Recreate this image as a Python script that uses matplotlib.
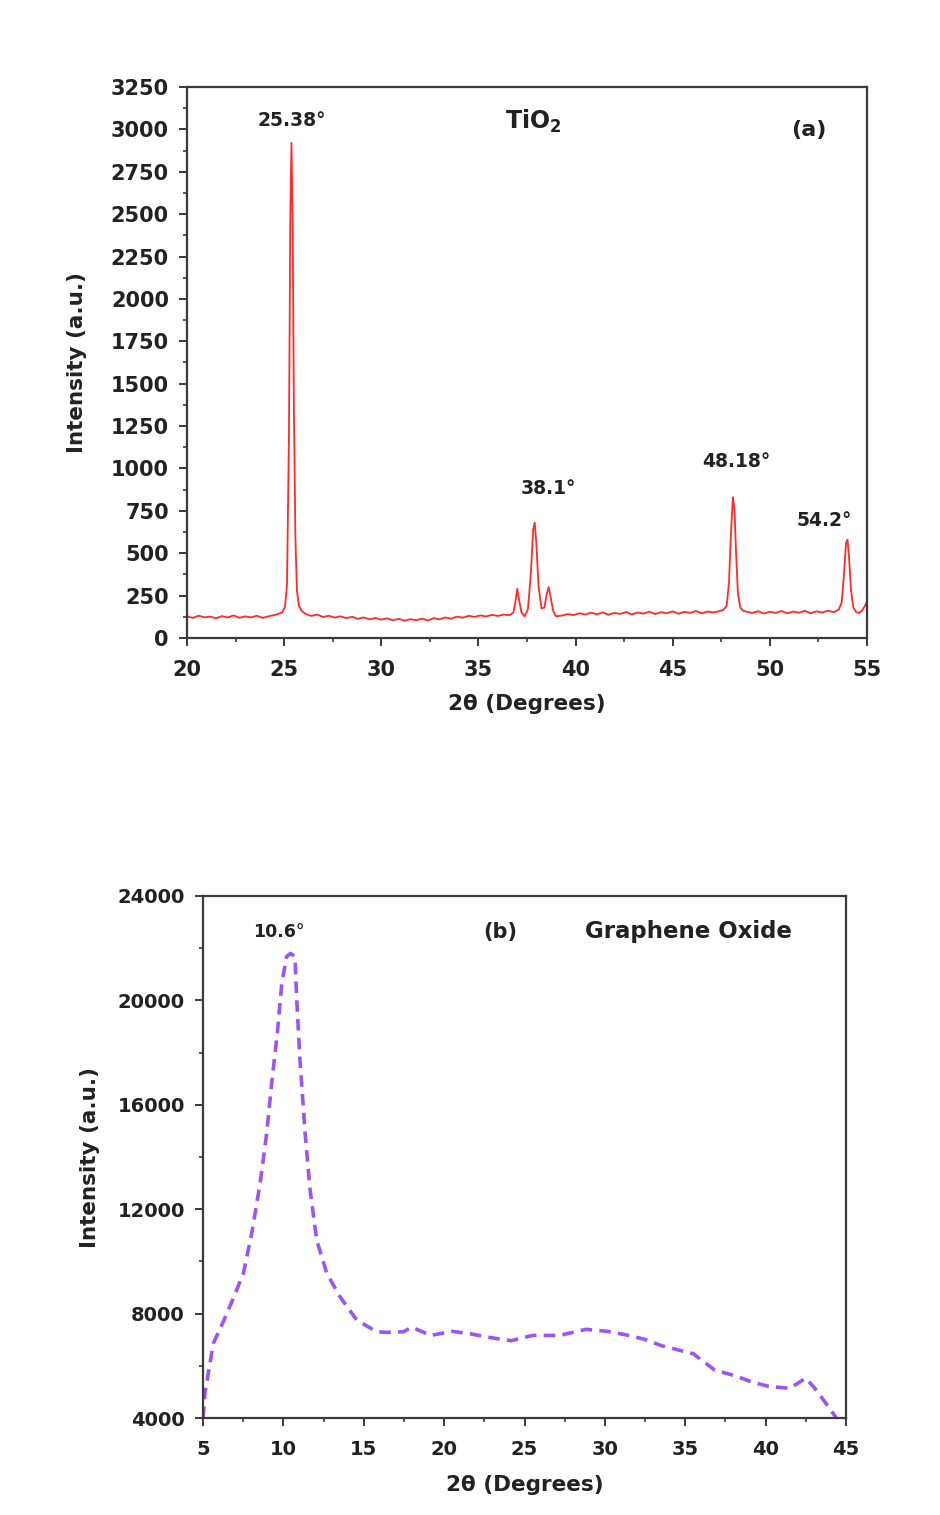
import matplotlib
matplotlib.use('Agg')
import matplotlib.pyplot as plt
from matplotlib.ticker import MultipleLocator

# (a) TiO2 XRD trace
tio2_theta = [
    20.0, 20.3, 20.6, 20.9, 21.2, 21.5, 21.8, 22.1, 22.4, 22.7, 23.0, 23.3, 23.6, 23.9,
    24.2, 24.5, 24.7, 24.9, 25.05, 25.15, 25.25, 25.32, 25.38, 25.44, 25.5, 25.58, 25.66,
    25.76, 25.9, 26.1, 26.4, 26.7, 27.0, 27.3, 27.6, 27.9, 28.2, 28.5, 28.8, 29.1, 29.4,
    29.7, 30.0, 30.3, 30.6, 30.9, 31.2, 31.5, 31.8, 32.1, 32.4, 32.7, 33.0, 33.3, 33.6,
    33.9, 34.2, 34.5, 34.8, 35.1, 35.4, 35.7, 36.0, 36.3, 36.6, 36.8, 36.9, 37.0, 37.1,
    37.22, 37.38, 37.55, 37.7, 37.82, 37.9, 37.98, 38.1, 38.25, 38.4, 38.52, 38.62, 38.72,
    38.85, 39.0, 39.3, 39.6, 39.9, 40.2, 40.5, 40.8, 41.1, 41.4, 41.7, 42.0, 42.3, 42.6,
    42.9, 43.2, 43.5, 43.8, 44.1, 44.4, 44.7, 45.0, 45.3, 45.6, 45.9, 46.2, 46.5, 46.8,
    47.1, 47.4, 47.6, 47.78, 47.9, 48.0, 48.1, 48.18, 48.27, 48.36, 48.48, 48.6, 48.8,
    49.1, 49.4, 49.7, 50.0, 50.3, 50.6, 50.9, 51.2, 51.5, 51.8, 52.1, 52.4, 52.7, 53.0,
    53.3, 53.55, 53.7, 53.82, 53.92, 54.0, 54.08, 54.18, 54.3, 54.45, 54.6, 54.75, 54.9,
    55.0,
]
tio2_int = [
    128, 118, 131, 122, 126, 116, 129, 121, 133, 119, 127, 122, 131, 118,
    128, 135, 142, 150, 185, 320, 1200, 2500, 2920, 2450, 1400, 600, 280,
    190, 160, 142, 130, 138, 124, 131, 120, 128, 117, 125, 113, 121, 110,
    118, 108, 116, 104, 113, 102, 111, 105, 114, 103, 117, 110, 121, 114,
    126, 119, 131, 124, 133, 127, 136, 130, 138, 134, 150, 210, 290, 220,
    150, 128, 170, 380, 640, 680, 560, 300, 175, 180, 260, 300, 240,
    160, 128, 132, 141, 135, 146, 138, 149, 140, 151, 137, 148, 142, 153,
    139, 150, 144, 155, 141, 152, 146, 157, 143, 154, 148, 159, 145, 156,
    150, 158, 165, 190, 330, 620, 830, 760, 480, 260, 180, 162, 155,
    147, 158, 144, 155, 148, 159, 145, 156, 149, 160, 146, 157, 150, 161,
    152, 168, 210, 380, 560, 580, 470, 280, 180, 152, 148, 162, 190,
    215,
]
tio2_peaks = ['25.38°', '38.1°', '48.18°', '54.2°']
tio2_peak_pos = [(25.4, 3055), (38.6, 879), (48.25, 1038), (52.8, 690)]

# (b) Graphene oxide XRD trace
go_theta = [
    5.0, 5.12, 5.64, 6.26, 6.88, 7.51, 8.03, 8.55, 8.96, 9.27, 9.62, 9.9, 10.2, 10.45,
    10.72, 10.83, 11.03, 11.35, 11.66, 12.07, 12.7, 13.52, 14.56, 15.8, 16.5, 17.46,
    18.0, 19.17, 20.5, 21.5, 22.83, 24.17, 25.5, 27.17, 28.83, 30.17, 31.5, 32.5, 33.5,
    35.5, 36.83, 38.17, 39.17, 40.17, 41.5, 42.5, 43.17, 44.17, 44.4,
]
go_int = [
    4000, 4960, 6860, 7690, 8586, 9544, 11076, 12992, 14908, 16824, 18740, 20655, 21676, 21800,
    21676, 20015, 17716, 14908, 12736, 10820, 9544, 8647, 7755, 7306, 7280, 7306,
    7476, 7164, 7320, 7242, 7086, 6962, 7164, 7164, 7398, 7320, 7164, 7009, 6775,
    6463, 5839, 5606, 5372, 5216, 5138, 5528, 5060, 4203, 4000,
]

plt.rcParams['font.family'] = ['DejaVu Sans']
plt.rcParams['font.weight'] = 'bold'
plt.rcParams['mathtext.default'] = 'bf'

fig = plt.figure(figsize=(9.4, 15.15), dpi=100)
fig.patch.set_facecolor('white')
txt = '#222222'


def style_axes(ax, fs):
    for sp in ax.spines.values():
        sp.set_linewidth(1.6)
        sp.set_color('#3a3a3a')
    ax.tick_params(which='major', direction='out', length=6, width=1.4,
                   labelsize=fs, color='#3a3a3a')
    ax.tick_params(axis='x', which='major', pad=10)
    ax.tick_params(axis='y', which='major', pad=7)
    ax.tick_params(which='minor', direction='out', length=3, width=1.2, color='#3a3a3a')
    for lb in ax.get_xticklabels() + ax.get_yticklabels():
        lb.set_fontweight('bold')
        lb.set_color(txt)


# panel (a)
ax1 = fig.add_axes([0.1989, 0.5789, 0.7234, 0.3637])
ax1.plot(tio2_theta, tio2_int, color='#ff2a2a', lw=1.3)
ax1.set_xlim(20, 55)
ax1.set_ylim(0, 3250)
ax1.xaxis.set_major_locator(MultipleLocator(5))
ax1.xaxis.set_minor_locator(MultipleLocator(2.5))
ax1.yaxis.set_major_locator(MultipleLocator(250))
ax1.yaxis.set_minor_locator(MultipleLocator(125))
style_axes(ax1, 15)
ax1.set_xlabel('2θ (Degrees)', fontsize=15.5, fontweight='bold', color=txt, labelpad=10)
ax1.set_ylabel('Intensity (a.u.)', fontsize=15.5, fontweight='bold', color=txt, labelpad=17)
for lab, (px, py) in zip(tio2_peaks, tio2_peak_pos):
    ax1.text(px, py, lab, ha='center', va='center', fontsize=13.5, fontweight='bold', color=txt)
ax1.text(37.8, 3044, r'$\mathbf{TiO_2}$', ha='center', va='center', fontsize=17, color=txt)
ax1.text(52.0, 2996, '(a)', ha='center', va='center', fontsize=16, fontweight='bold', color=txt)

# panel (b)
ax2 = fig.add_axes([0.216, 0.064, 0.684, 0.3446])
ax2.plot(go_theta, go_int, color='#9b55f5', lw=2.6, dashes=(3.2, 2.0))
ax2.set_xlim(5, 45)
ax2.set_ylim(4000, 24000)
ax2.xaxis.set_major_locator(MultipleLocator(5))
ax2.xaxis.set_minor_locator(MultipleLocator(2.5))
ax2.yaxis.set_major_locator(MultipleLocator(4000))
ax2.yaxis.set_minor_locator(MultipleLocator(2000))
style_axes(ax2, 14)
ax2.set_xlabel('2θ (Degrees)', fontsize=15.5, fontweight='bold', color=txt, labelpad=11)
ax2.set_ylabel('Intensity (a.u.)', fontsize=15.5, fontweight='bold', color=txt, labelpad=13)
ax2.text(9.7, 22620, '10.6°', ha='center', va='center', fontsize=12.5, fontweight='bold', color=txt)
ax2.text(23.5, 22620, '(b)', ha='center', va='center', fontsize=15, fontweight='bold', color=txt)
ax2.text(35.2, 22620, 'Graphene Oxide', ha='center', va='center', fontsize=16.5, fontweight='bold', color=txt)

fig.savefig('out.png', dpi=100, facecolor='white')
